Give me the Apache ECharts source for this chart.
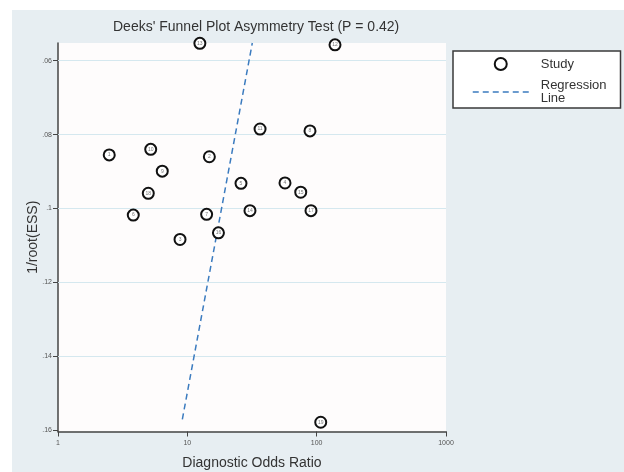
<!DOCTYPE html>
<html>
<head>
<meta charset="utf-8">
<script src="https://cdn.jsdelivr.net/npm/echarts@6/dist/echarts.min.js"></script>
<style>html,body{margin:0;padding:0;background:#fff}#c{width:624px;height:472px}</style>
</head>
<body>
<div id="c"></div>
<script>
// Study labels, diagnostic odds ratios and 1/root(ESS) values
var studyLabels = ['1','2','3','4','5','6','7','8','9','10','11','12','13','14','15','16','17','18','19'];
var studyDOR   = [2.49, 14.8, 8.78, 56.9, 26.0, 3.82, 14.1, 88.8, 6.40, 5.21, 36.5, 138.6, 12.5, 30.5, 75.3, 17.4, 90.4, 4.99, 107.5];
var studyESS   = [0.0855, 0.0860, 0.1084, 0.0931, 0.0932, 0.1018, 0.1016, 0.0790, 0.0899, 0.0840, 0.0785, 0.0557, 0.0553, 0.1006, 0.0956, 0.1066, 0.1006, 0.0959, 0.1579];
// Regression line end points
var regDOR = [9.15, 31.8];
var regESS = [0.1571, 0.0552];
// Axis ticks
var xTicks = [1, 10, 100, 1000];
var yTicks = [0.06, 0.08, 0.10, 0.12, 0.14, 0.16];
var yGrid  = [0.06, 0.08, 0.10, 0.12, 0.14];

var studyData = studyDOR.map(function (d, i) { return { value: [d, studyESS[i]], name: studyLabels[i] }; });
var regData = regDOR.map(function (d, i) { return [d, regESS[i]]; });

var FONT = 'Liberation Sans, Arial, sans-serif';
var chart = echarts.init(document.getElementById('c'), null, { renderer: 'canvas' });
chart.setOption({
  animation: false,
  backgroundColor: '#ffffff',
  graphic: [{
    type: 'rect', z: -10, silent: true,
    shape: { x: 12, y: 10, width: 612, height: 462 },
    style: { fill: '#e7eef2' }
  }],
  title: {
    text: "Deeks' Funnel Plot Asymmetry Test (P = 0.42)",
    left: 108, top: 15,
    textStyle: { fontFamily: FONT, fontSize: 14, fontWeight: 'normal', color: '#333' }
  },
  legend: {
    orient: 'vertical',
    left: 453, top: 51,
    padding: [6, 14, 3, 19],
    itemWidth: 56, itemHeight: 12,
    itemGap: 8,
    backgroundColor: '#ffffff',
    borderColor: '#3a3a3a', borderWidth: 1.5,
    textStyle: { fontFamily: FONT, fontSize: 13, color: '#333', lineHeight: 13, padding: [0, 0, 0, 7] },
    data: [
      { name: 'Study', icon: 'circle', itemStyle: { color: '#ffffff', borderColor: '#111', borderWidth: 2 } },
      { name: 'Regression\nLine', itemStyle: { opacity: 0 }, lineStyle: { color: '#3b7bbf', width: 1.5, type: [6, 4] } }
    ]
  },
  grid: { left: 58, right: 178, top: 43, bottom: 40.5, outerBoundsMode: 'none', containLabel: false, show: true, backgroundColor: '#fefcfc', borderWidth: 0 },
  xAxis: {
    type: 'log', logBase: 10, min: 1, max: 1000,
    name: 'Diagnostic Odds Ratio', nameLocation: 'middle', nameGap: 25, nameMoveOverlap: false,
    nameTextStyle: { fontFamily: FONT, fontSize: 14, color: '#333' },
    axisLine: { onZero: false, lineStyle: { color: '#444', width: 1.5 } },
    axisTick: { show: true, length: 5, lineStyle: { color: '#444' } },
    minorTick: { show: false },
    axisLabel: {
      fontFamily: FONT, fontSize: 7, color: '#555', margin: 8,
      formatter: function (v) { return String(Math.round(v)); }
    },
    splitLine: { show: false }
  },
  yAxis: {
    type: 'value', inverse: true, min: 0.0552, max: 0.1604,
    name: '1/root(ESS)', nameLocation: 'middle', nameGap: 18, nameRotate: 90, nameMoveOverlap: false,
    nameTextStyle: { fontFamily: FONT, fontSize: 14, color: '#333' },
    axisLine: { show: true, onZero: false, lineStyle: { color: '#444', width: 1.5 } },
    axisTick: { show: true, length: 5, customValues: yTicks, lineStyle: { color: '#444' } },
    axisLabel: {
      customValues: yTicks,
      fontFamily: FONT, fontSize: 7, color: '#555', margin: 6,
      formatter: function (v) { return String(+v.toFixed(2)).replace(/^0/, ''); }
    },
    splitLine: { show: false }
  },
  series: [
    {
      name: 'Study', type: 'scatter', data: studyData,
      symbol: 'circle', symbolSize: 11,
      itemStyle: { color: '#ffffff', borderColor: '#111', borderWidth: 2, opacity: 1 },
      label: { show: true, position: 'inside', formatter: '{b}', fontSize: 5, color: '#777', fontFamily: FONT },
      z: 5,
      markLine: {
        silent: true, symbol: 'none',
        label: { show: false },
        lineStyle: { color: '#d5e8ef', type: 'solid', width: 1 },
        data: yGrid.map(function (v) { return { yAxis: v }; }),
        z: 1
      }
    },
    {
      name: 'Regression\nLine', type: 'line', data: regData,
      symbol: 'none',
      lineStyle: { color: '#3b7bbf', width: 1.5, type: [6, 4] },
      itemStyle: { color: '#3b7bbf' },
      z: 4
    }
  ]
});
</script>
</body>
</html>
